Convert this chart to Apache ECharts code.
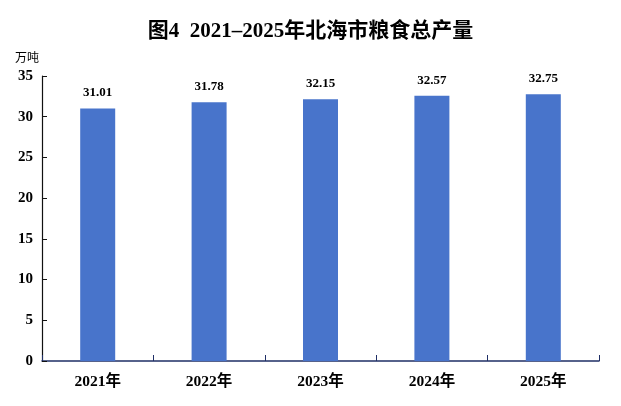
<!DOCTYPE html>
<html lang="zh">
<head>
    <meta charset="utf-8">
    <title>北海市粮食总产量</title>
    <script src="https://cdn.jsdelivr.net/npm/echarts@6/dist/echarts.min.js"></script>
    <style>
        html, body { margin: 0; padding: 0; background: #fff; }
        #main { width: 621px; height: 406px; }
    </style>
</head>
<body>
    <div id="main"></div>
    <script type="text/javascript">
    // 数据
    var years = ['2021年', '2022年', '2023年', '2024年', '2025年'];
    var output = [31.01, 31.78, 32.15, 32.57, 32.75];
    var yTicks = [0, 5, 10, 15, 20, 25, 30, 35];

    var serif = '"Liberation Serif", "Noto Sans CJK SC", serif';

    var myChart = echarts.init(document.getElementById('main'));
    myChart.setOption({
        animation: false,
        title: {
            text: '图4  2021–2025年北海市粮食总产量',
            left: 'center',
            top: 16,
            textStyle: { fontFamily: serif, fontSize: 21, fontWeight: 'bold', color: '#000' }
        },
        grid: { left: 42, right: 22, top: 76, bottom: 45 },
        xAxis: {
            type: 'category',
            data: years,
            axisLine: { lineStyle: { color: '#1f2f66', width: 1.5 } },
            axisTick: { show: true, inside: true, length: 6, lineStyle: { color: '#1f2f66' } },
            axisLabel: { fontFamily: serif, fontSize: 15.5, fontWeight: 'bold', color: '#000', margin: 13 }
        },
        yAxis: {
            type: 'value',
            min: yTicks[0],
            max: yTicks[yTicks.length - 1],
            interval: 5,
            name: '万吨',
            nameLocation: 'end',
            nameGap: 13,
            nameTextStyle: { fontFamily: '"Noto Sans CJK SC", sans-serif', fontSize: 12, color: '#000', align: 'right', padding: [0, 3, 0, 0] },
            axisLine: { show: true, lineStyle: { color: '#111', width: 1.2 } },
            axisTick: { show: true, inside: true, length: 5, lineStyle: { color: '#111' } },
            splitLine: { show: false },
            axisLabel: { fontFamily: serif, fontSize: 15, fontWeight: 'bold', color: '#000', margin: 9 }
        },
        series: [{
            type: 'bar',
            data: output,
            barWidth: 35,
            itemStyle: { color: '#4874cb' },
            label: {
                show: true,
                position: 'top',
                distance: 9,
                fontFamily: serif,
                fontSize: 13,
                fontWeight: 'bold',
                color: '#000',
                formatter: function (p) { return p.value.toFixed(2); }
            }
        }]
    });
    </script>
</body>
</html>
